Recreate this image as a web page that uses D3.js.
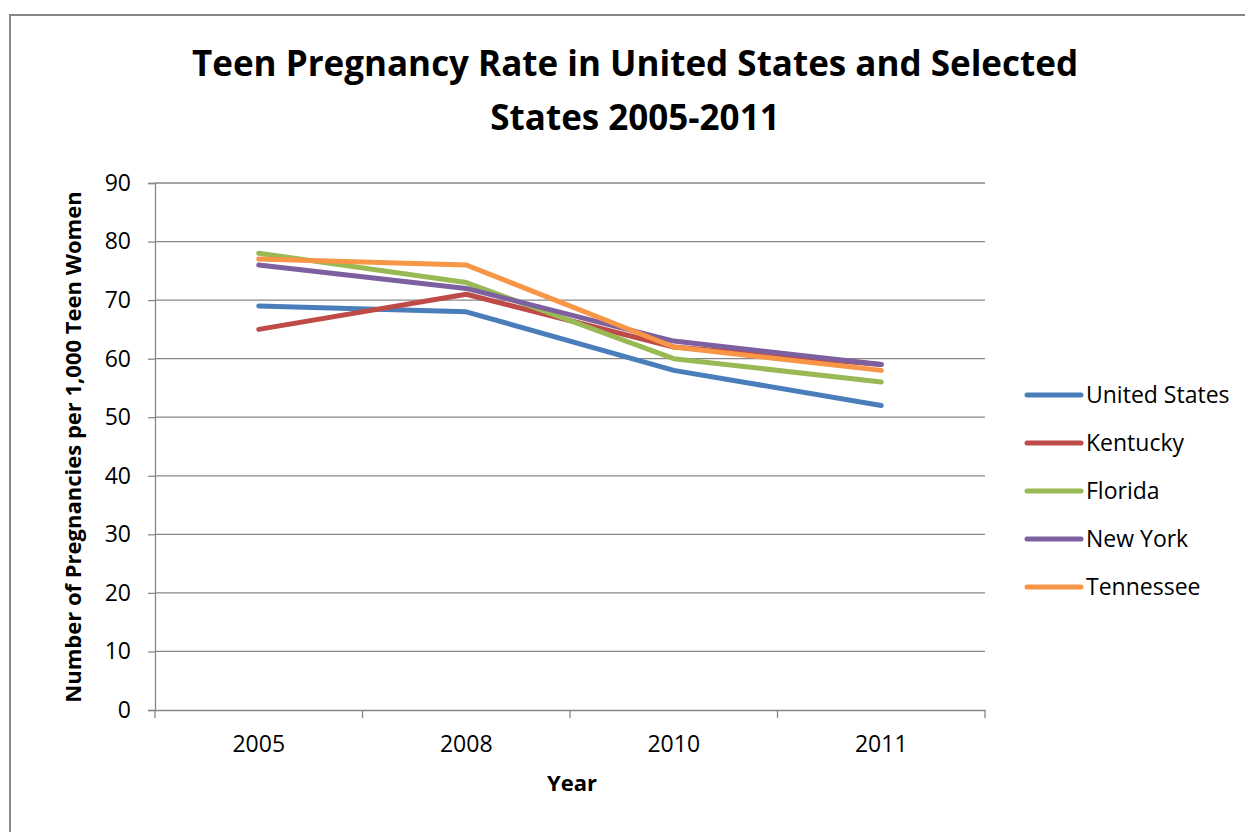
<!DOCTYPE html>
<html>
<head>
<meta charset="utf-8">
<script src="https://cdn.jsdelivr.net/npm/d3@7"></script>
<style>
  html, body { margin: 0; padding: 0; background: #fff; }
  svg { display: block; font-family: "Open Sans", "Noto Sans", sans-serif; }
</style>
</head>
<body>
<svg id="chart" width="1245" height="832"></svg>
<script>
const years = ["2005", "2008", "2010", "2011"];
const seriesNames = ["United States", "Kentucky", "Florida", "New York", "Tennessee"];
const unitedStates = [69, 68, 58, 52];
const kentucky = [65, 71, 62, 59];
const florida = [78, 73, 60, 56];
const newYork = [76, 72, 63, 59];
const tennessee = [77, 76, 62, 58];
const seriesColors = ["#4A7EBB", "#BE4B48", "#98B954", "#7D60A0", "#F79646"];
const yTicks = [0, 10, 20, 30, 40, 50, 60, 70, 80, 90];
const titleLines = ["Teen Pregnancy Rate in United States and Selected", "States 2005-2011"];

const seriesValues = [unitedStates, kentucky, florida, newYork, tennessee];
const series = seriesNames.map((name, i) => ({ name, color: seriesColors[i], values: seriesValues[i] }));

const svg = d3.select("#chart");
const plot = { left: 155, right: 985, top: 183, bottom: 710 };

// chart border
svg.append("rect").attr("x", 10).attr("y", 15).attr("width", 1300).attr("height", 900)
  .attr("fill", "#fff").attr("stroke", "#878787").attr("stroke-width", 2);

// title
const title = svg.append("text").attr("text-anchor", "middle")
  .attr("font-weight", "bold").attr("font-size", 35).attr("fill", "#000");
titleLines.forEach((t, i) => {
  title.append("tspan").attr("x", 635).attr("y", 76 + i * 54).text(t);
});

const x = d3.scaleBand().domain(years).range([plot.left, plot.right]);
const y = d3.scaleLinear().domain([0, 90]).range([plot.bottom, plot.top]);

// gridlines
svg.append("g").selectAll("line").data(yTicks.filter(d => d > 0)).join("line")
  .attr("x1", plot.left).attr("x2", plot.right)
  .attr("y1", d => y(d)).attr("y2", d => y(d))
  .attr("stroke", "#878787").attr("stroke-width", 1.3);

// y axis
const yAxis = svg.append("g").attr("transform", `translate(${plot.left},0)`)
  .call(d3.axisLeft(y).tickValues(yTicks).tickSize(7).tickPadding(13).tickFormat(d3.format("d")));
yAxis.selectAll("path, line").attr("stroke", "#878787").attr("stroke-width", 1.3);
yAxis.selectAll("text").attr("font-size", 23).attr("fill", "#000").attr("font-family", "Open Sans").attr("dx", -4);

// x axis
const xAxis = svg.append("g").attr("transform", `translate(0,${plot.bottom})`)
  .call(d3.axisBottom(x).tickSize(0).tickPadding(26));
xAxis.select("path").attr("stroke", "#878787").attr("stroke-width", 1.3);
xAxis.selectAll("text").attr("font-size", 23).attr("fill", "#000").attr("font-family", "Open Sans");
// category boundary ticks
const bounds = years.map(d => x(d)).concat([x(years[years.length - 1]) + x.bandwidth()]);
xAxis.selectAll("line.bound").data(bounds).join("line").attr("class", "bound")
  .attr("x1", d => d).attr("x2", d => d).attr("y1", 0).attr("y2", 8)
  .attr("stroke", "#878787").attr("stroke-width", 1.3);

// axis titles
svg.append("text").attr("x", 572).attr("y", 791).attr("text-anchor", "middle")
  .attr("font-weight", "bold").attr("font-size", 22).text("Year");
svg.append("text").attr("transform", `translate(81,447) rotate(-90)`).attr("text-anchor", "middle")
  .attr("font-weight", "bold").attr("font-size", 22).text("Number of Pregnancies per 1,000 Teen Women");

// lines
const line = d3.line().x((d, i) => x(years[i]) + x.bandwidth() / 2).y(d => y(d));
svg.append("g").selectAll("path").data(series).join("path")
  .attr("d", d => line(d.values))
  .attr("fill", "none").attr("stroke", d => d.color).attr("stroke-width", 5)
  .attr("stroke-linecap", "round").attr("stroke-linejoin", "round");

// legend
const legend = svg.append("g").selectAll("g").data(series).join("g")
  .attr("transform", (d, i) => `translate(1027,${395 + i * 48})`);
legend.append("line").attr("x1", 0).attr("x2", 54).attr("y1", 0).attr("y2", 0)
  .attr("stroke", d => d.color).attr("stroke-width", 5).attr("stroke-linecap", "round");
legend.append("text").attr("x", 59).attr("y", 8).attr("font-size", 23).text(d => d.name);
</script>
</body>
</html>
